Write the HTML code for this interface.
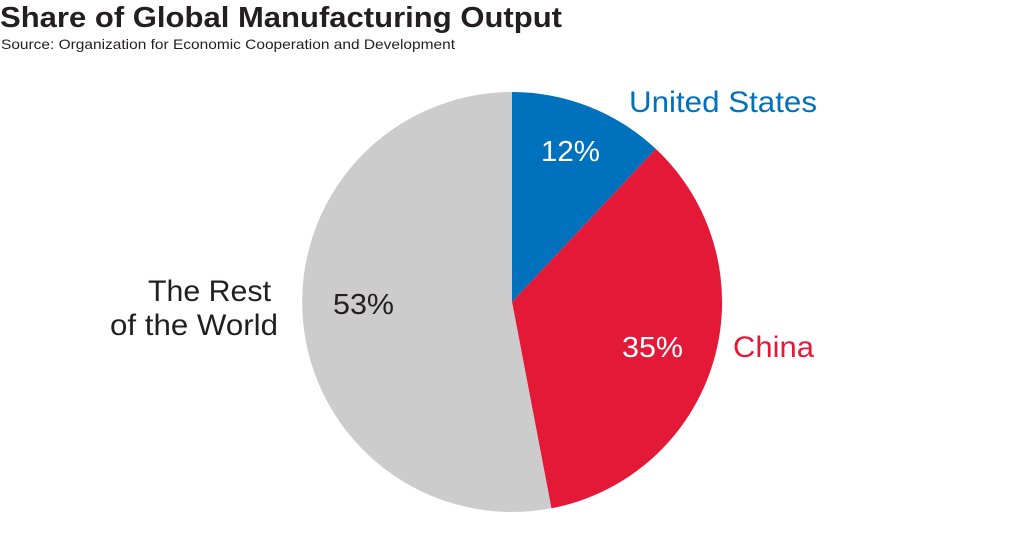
<!DOCTYPE html>
<html><head><meta charset="utf-8"><style>
body{margin:0;width:1024px;height:558px;background:#fff;font-family:"Liberation Sans",sans-serif;overflow:hidden;position:relative}
</style></head><body>
<svg width="1024" height="558" style="position:absolute;left:0;top:0">
<text x="0" y="27" font-family="Liberation Sans, sans-serif" font-weight="bold" font-size="29" fill="#231f20" textLength="562" lengthAdjust="spacingAndGlyphs">Share of Global Manufacturing Output</text>
<text x="1" y="49" font-family="Liberation Sans, sans-serif" font-size="14" fill="#231f20" textLength="454" lengthAdjust="spacingAndGlyphs">Source: Organization for Economic Cooperation and Development</text>
<path d="M512,302 L512,92 A210,210 0 0 1 655.8,148.9 Z" fill="#0071bc"/>
<path d="M512,302 L655.8,148.9 A210,210 0 0 1 551.4,508.3 Z" fill="#e31937"/>
<path d="M512,302 L551.4,508.3 A210,210 0 1 1 512,92 Z" fill="#cccccc"/>
<g font-family="Liberation Sans, sans-serif" font-size="29" lengthAdjust="spacingAndGlyphs">
<text x="541" y="161" fill="#fff" textLength="59" lengthAdjust="spacingAndGlyphs">12%</text>
<text x="622" y="357" fill="#fff" textLength="61" lengthAdjust="spacingAndGlyphs">35%</text>
<text x="333" y="314" fill="#231f20" textLength="61" lengthAdjust="spacingAndGlyphs">53%</text>
<text x="629" y="112" fill="#0071bc" font-size="30" textLength="188" lengthAdjust="spacingAndGlyphs">United States</text>
<text x="733" y="357" fill="#e31937" font-size="30" textLength="81" lengthAdjust="spacingAndGlyphs">China</text>
<text x="148" y="301" fill="#231f20" font-size="30" textLength="123" lengthAdjust="spacingAndGlyphs">The Rest</text>
<text x="110" y="335" fill="#231f20" font-size="30" textLength="168" lengthAdjust="spacingAndGlyphs">of the World</text>
</g>
</svg>
</body></html>
